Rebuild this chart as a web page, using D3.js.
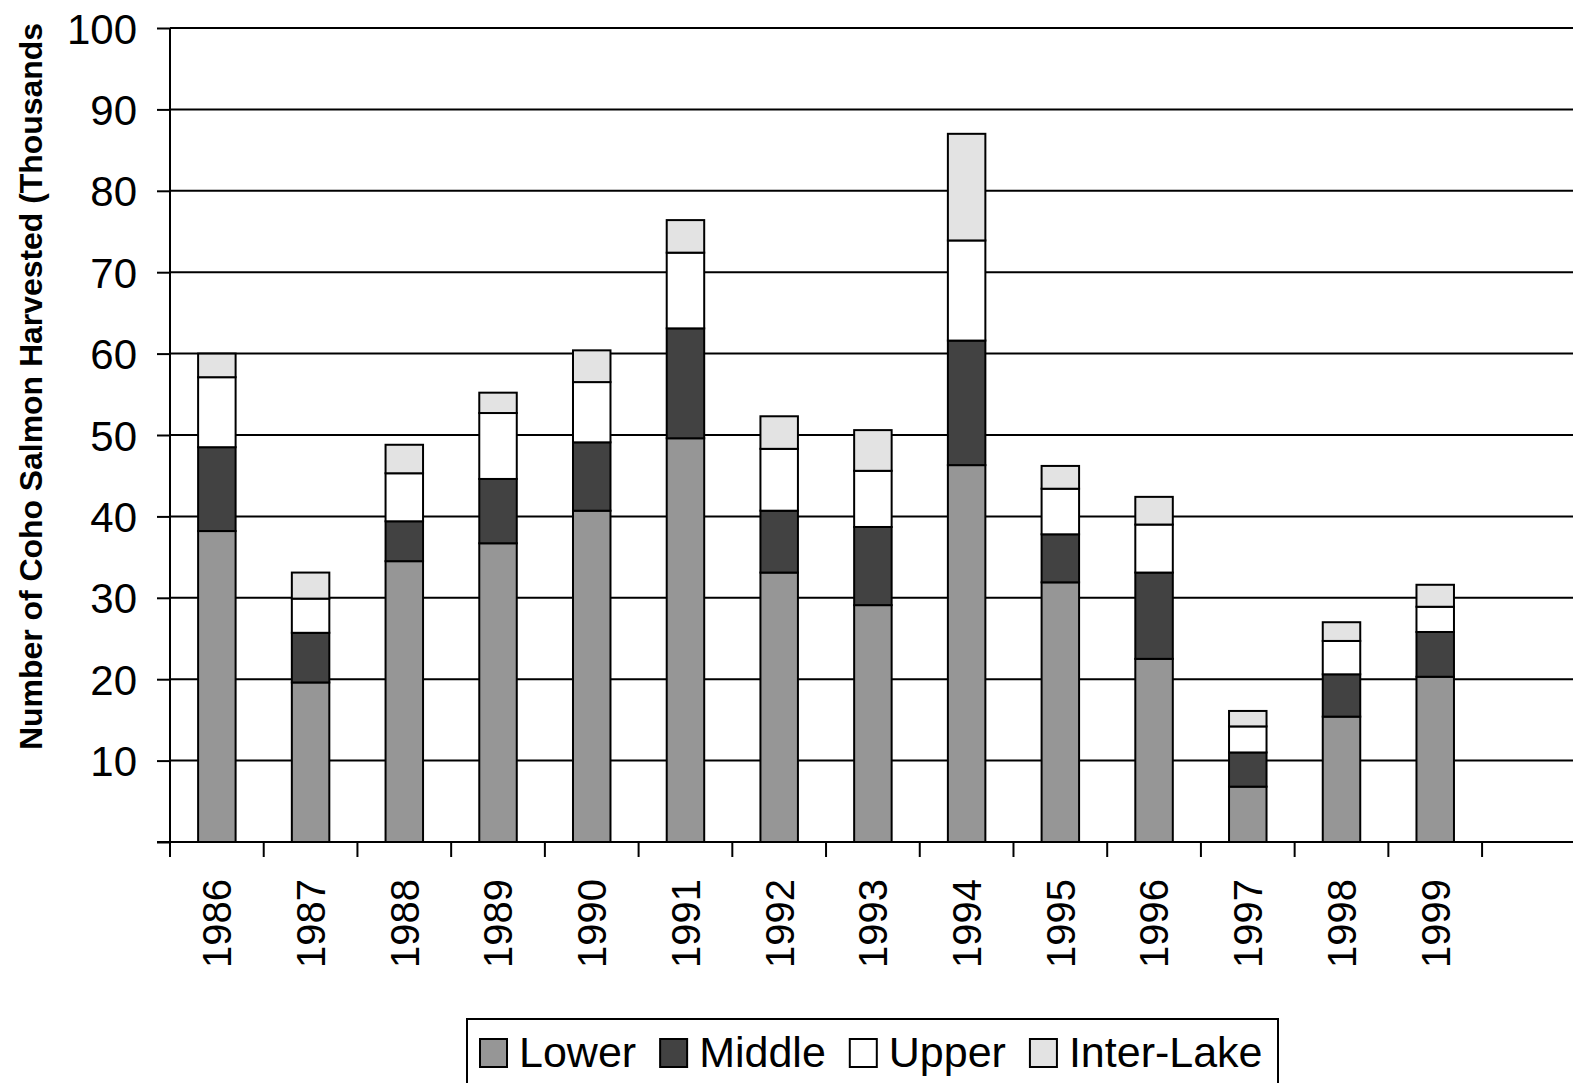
<!DOCTYPE html>
<html>
<head>
    <meta charset="utf-8" />
    <title>Coho Salmon Harvest</title>
    <script src="https://cdn.jsdelivr.net/npm/d3@7"></script>
    <style>
        body { margin: 0; background: #fff; }
        svg { display: block; }
        text { font-family: "Liberation Sans", Arial, sans-serif; fill: #000; }
    </style>
</head>
<body>
    <svg width="1573" height="1083"></svg>
    <script>
        // data (thousands of fish)
        var years = ["1986", "1987", "1988", "1989", "1990", "1991", "1992", "1993", "1994", "1995", "1996", "1997", "1998", "1999"];
        var lower = [38.2, 19.6, 34.5, 36.7, 40.7, 49.6, 33.1, 29.1, 46.3, 31.9, 22.5, 6.8, 15.4, 20.3];
        var middle = [10.3, 6.1, 4.9, 7.9, 8.4, 13.5, 7.6, 9.6, 15.3, 5.9, 10.6, 4.2, 5.2, 5.5];
        var upper = [8.6, 4.2, 5.9, 8.1, 7.4, 9.3, 7.6, 6.9, 12.3, 5.6, 5.9, 3.2, 4.1, 3.1];
        var interLake = [2.9, 3.2, 3.5, 2.5, 3.9, 4.0, 4.0, 5.0, 13.1, 2.8, 3.4, 1.9, 2.3, 2.7];
        var seriesNames = ["Lower", "Middle", "Upper", "Inter-Lake"];
        var seriesColors = ["#969696", "#424242", "#ffffff", "#e3e3e3"];
        var yTicks = [10, 20, 30, 40, 50, 60, 70, 80, 90, 100];

        var svg = d3.select("svg");
        var plotLeft = 170, plotTop = 28, plotBottom = 842, slot = 93.72;

        // one empty slot after 1999, like the original axis
        var slots = years.concat([""]);
        var x = d3.scaleBand().domain(slots).range([plotLeft, plotLeft + slots.length * slot]).padding(0);
        var y = d3.scaleLinear().domain([0, 100]).range([plotBottom, plotTop]);

        var table = years.map(function (yr, i) {
            return { year: yr, Lower: lower[i], Middle: middle[i], Upper: upper[i], "Inter-Lake": interLake[i] };
        });
        var stacked = d3.stack().keys(seriesNames)(table);

        // gridlines
        svg.append("g").selectAll("line").data(yTicks).enter().append("line")
            .attr("x1", plotLeft).attr("x2", 1573)
            .attr("y1", function (d) { return y(d); }).attr("y2", function (d) { return y(d); })
            .attr("stroke", "#000").attr("stroke-width", 2);

        // y axis
        var yAxis = d3.axisLeft(y).tickValues([0].concat(yTicks)).tickSize(13).tickPadding(20)
            .tickFormat(function (d) { return d === 0 ? "" : d; });
        var gy = svg.append("g").attr("transform", "translate(" + plotLeft + ",0)").call(yAxis);
        gy.select(".domain").remove();
        gy.selectAll("line").attr("stroke", "#000").attr("stroke-width", 2);
        gy.selectAll("text").style("font-size", "42px").attr("dy", "0.36em");
        svg.append("line").attr("x1", plotLeft).attr("x2", plotLeft).attr("y1", plotTop).attr("y2", plotBottom + 1)
            .attr("stroke", "#000").attr("stroke-width", 2);

        // bars
        var barW = x.bandwidth() * 0.4;
        svg.append("g").selectAll("g").data(stacked).enter().append("g")
            .attr("fill", function (d, i) { return seriesColors[i]; })
            .selectAll("rect").data(function (d) { return d; }).enter().append("rect")
            .attr("x", function (d) { return x(d.data.year) + (x.bandwidth() - barW) / 2; })
            .attr("width", barW)
            .attr("y", function (d) { return y(d[1]); })
            .attr("height", function (d) { return y(d[0]) - y(d[1]); })
            .attr("stroke", "#000").attr("stroke-width", 2);

        // x axis
        svg.append("line").attr("x1", plotLeft - 13).attr("x2", 1573).attr("y1", plotBottom).attr("y2", plotBottom)
            .attr("stroke", "#000").attr("stroke-width", 2);
        var bounds = d3.range(slots.length).map(function (i) { return plotLeft + i * slot; });
        svg.append("g").selectAll("line").data(bounds).enter().append("line")
            .attr("x1", function (d) { return d; }).attr("x2", function (d) { return d; })
            .attr("y1", plotBottom).attr("y2", plotBottom + 15)
            .attr("stroke", "#000").attr("stroke-width", 2);
        svg.append("g").selectAll("text").data(years).enter().append("text")
            .attr("transform", function (d) {
                return "translate(" + (x(d) + x.bandwidth() / 2) + "," + 879 + ") rotate(-90)";
            })
            .attr("text-anchor", "end").attr("dy", "0.36em")
            .style("font-size", "40px")
            .text(function (d) { return d; });

        // y axis title
        svg.append("text")
            .attr("transform", "translate(42,750) rotate(-90)")
            .attr("text-anchor", "start")
            .attr("textLength", 727).attr("lengthAdjust", "spacingAndGlyphs")
            .style("font-size", "32px").style("font-weight", "bold")
            .text("Number of Coho Salmon Harvested (Thousands");

        // legend
        var lg = svg.append("g");
        lg.append("rect").attr("x", 467).attr("y", 1019).attr("width", 811).attr("height", 90)
            .attr("fill", "#fff").attr("stroke", "#000").attr("stroke-width", 2);
        var lx = 480;
        seriesNames.forEach(function (name, i) {
            lg.append("rect").attr("x", lx).attr("y", 1039).attr("width", 27).attr("height", 28)
                .attr("fill", seriesColors[i]).attr("stroke", "#000").attr("stroke-width", 2);
            var t = lg.append("text").attr("x", lx + 39).attr("y", 1067)
                .style("font-size", "43px").text(name);
            lx += 39 + t.node().getComputedTextLength() + 24;
        });
    </script>
</body>
</html>
